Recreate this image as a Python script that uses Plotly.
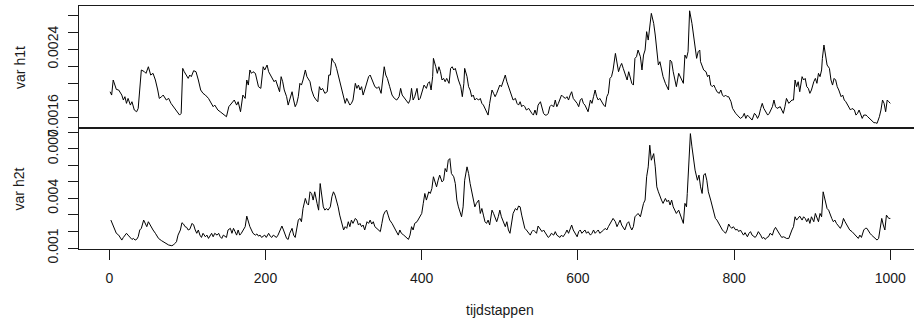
import numpy as np
import plotly.graph_objects as go

# time steps and conditional variance of series 1 (values in units of 1e-4)
steps_h1 = [
    1, 3, 5, 9, 12, 16, 18, 20, 22, 24,
    27, 29, 32, 35, 37, 39, 41, 45, 47, 50,
    53, 56, 59, 62, 64, 67, 69, 73, 76, 79,
    82, 86, 90, 92, 94, 96, 98, 101, 103, 105,
    108, 111, 114, 117, 120, 123, 127, 130, 133, 135,
    139, 142, 145, 150, 153, 157, 160, 163, 165, 168,
    169, 171, 174, 176, 178, 180, 182, 184, 187, 189,
    191, 194, 196, 197, 199, 202, 204, 207, 209, 211,
    213, 216, 218, 220, 222, 224, 227, 229, 231, 234,
    236, 238, 240, 242, 244, 246, 248, 251, 253, 255,
    257, 259, 262, 265, 267, 269, 271, 273, 276, 279,
    281, 283, 285, 287, 289, 291, 293, 295, 298, 300,
    302, 304, 306, 308, 310, 312, 315, 317, 319, 321,
    323, 325, 327, 330, 332, 334, 336, 338, 340, 343,
    345, 348, 350, 352, 354, 356, 359, 362, 365, 368,
    371, 373, 375, 378, 381, 383, 385, 387, 389, 391,
    394, 396, 398, 400, 403, 406, 408, 410, 412, 414,
    415, 418, 420, 422, 424, 426, 428, 430, 432, 435,
    437, 439, 441, 443, 445, 447, 450, 452, 454, 455,
    458, 460, 462, 464, 466, 468, 470, 473, 475, 477,
    479, 481, 483, 485, 487, 490, 492, 494, 496, 498,
    500, 502, 505, 507, 509, 511, 513, 515, 517, 520,
    522, 524, 526, 528, 530, 532, 534, 537, 539, 541,
    543, 545, 547, 549, 552, 554, 556, 558, 560, 562,
    564, 566, 569, 571, 573, 575, 577, 579, 581, 584,
    586, 588, 590, 592, 594, 596, 599, 601, 603, 605,
    607, 609, 611, 613, 616, 618, 620, 622, 624, 626,
    628, 631, 633, 635, 637, 639, 641, 643, 645, 648,
    650, 652, 654, 656, 658, 660, 663, 665, 667, 669,
    671, 673, 675, 677, 680, 682, 684, 686, 688, 690,
    694, 697, 699, 701, 703, 705, 707, 709, 712, 714,
    716, 718, 720, 722, 724, 726, 729, 731, 733, 735,
    737, 739, 741, 743, 746, 748, 750, 752, 754, 756,
    757, 759, 761, 764, 766, 768, 770, 772, 774, 776,
    778, 781, 783, 785, 787, 789, 791, 793, 796, 798,
    800, 802, 804, 806, 808, 811, 813, 815, 817, 819,
    821, 823, 826, 828, 830, 832, 834, 836, 838, 840,
    843, 845, 847, 849, 851, 853, 855, 859, 861, 863,
    865, 867, 870, 872, 874, 876, 878, 880, 882, 884,
    887, 889, 891, 893, 895, 897, 899, 902, 904, 906,
    908, 910, 912, 913, 915, 917, 919, 922, 924, 926,
    928, 930, 932, 934, 937, 939, 941, 943, 945, 947,
    949, 951, 954, 956, 958, 960, 962, 964, 966, 969,
    971, 973, 975, 977, 979, 981, 983, 986, 988, 990,
    992, 994, 996, 998, 1000,
]
h1_e4 = [
    19.04, 18.65, 20.41, 19.31, 19.24, 18.65, 18.07, 18.46, 17.68, 18.26,
    17.48, 17.87, 16.90, 16.70, 17.09, 19.24, 21.58, 21.38, 21.19, 21.96,
    20.99, 21.19, 20.41, 19.24, 18.26, 18.46, 18.65, 18.07, 18.26, 17.68,
    17.29, 16.70, 16.31, 16.51, 21.77, 21.38, 20.99, 20.60, 20.99, 20.80,
    21.50, 21.38, 20.41, 19.24, 18.85, 18.65, 18.26, 17.68, 17.29, 17.48,
    16.90, 16.70, 16.51, 16.12, 17.29, 17.68, 18.07, 17.48, 17.87, 16.70,
    17.29, 18.65, 18.26, 20.41, 19.82, 21.58, 21.19, 21.38, 21.19, 20.21,
    19.63, 19.43, 20.99, 21.96, 21.58, 22.16, 21.38, 20.80, 20.60, 20.21,
    20.41, 19.63, 19.04, 20.80, 20.21, 19.24, 18.46, 17.48, 18.07, 19.04,
    18.07, 17.29, 17.68, 18.46, 20.02, 19.82, 20.41, 21.58, 20.80, 20.41,
    20.21, 19.24, 18.46, 18.07, 17.87, 19.63, 19.24, 19.43, 18.85, 19.04,
    20.99, 20.99, 22.94, 22.55, 22.35, 21.77, 20.99, 20.02, 19.24, 18.46,
    17.68, 18.26, 17.87, 17.48, 17.68, 18.07, 20.02, 19.43, 19.82, 19.24,
    19.63, 18.65, 19.24, 20.21, 20.80, 20.99, 20.60, 20.02, 19.63, 19.43,
    19.63, 18.85, 20.60, 21.96, 20.99, 20.60, 19.63, 18.65, 18.26, 18.07,
    18.46, 19.43, 18.65, 18.26, 17.87, 17.68, 18.07, 19.43, 18.07, 18.46,
    19.43, 18.07, 18.26, 19.04, 19.82, 19.43, 20.02, 20.21, 19.24, 20.80,
    22.94, 21.96, 21.19, 21.96, 21.38, 20.41, 20.60, 20.21, 20.60, 20.02,
    21.77, 21.96, 21.58, 21.77, 20.99, 20.41, 19.63, 18.46, 20.02, 21.77,
    20.80, 19.63, 19.24, 18.46, 18.65, 18.07, 18.26, 18.07, 18.26, 17.68,
    17.48, 17.09, 16.51, 16.31, 17.68, 19.24, 18.85, 18.46, 18.85, 19.43,
    19.82, 19.63, 20.60, 20.99, 20.21, 19.63, 19.24, 18.65, 18.07, 18.26,
    17.68, 17.48, 17.87, 17.29, 17.48, 17.29, 16.90, 17.09, 16.70, 16.51,
    16.31, 16.90, 16.31, 17.48, 17.87, 17.09, 16.51, 16.31, 16.31, 16.51,
    17.29, 17.48, 17.29, 18.07, 17.29, 17.68, 18.26, 18.65, 18.46, 18.26,
    18.46, 18.07, 18.65, 19.04, 18.26, 18.07, 17.68, 17.29, 18.07, 18.26,
    17.68, 17.48, 17.09, 16.70, 18.07, 17.68, 18.46, 19.24, 18.46, 18.07,
    18.26, 17.68, 17.48, 17.29, 18.46, 18.85, 20.60, 20.80, 21.58, 23.52,
    22.55, 21.38, 21.96, 22.35, 21.77, 21.19, 20.41, 21.38, 20.60, 20.02,
    19.82, 22.94, 23.13, 23.91, 23.13, 21.58, 23.33, 23.91, 26.06, 25.08,
    28.20, 27.03, 25.67, 23.52, 22.16, 22.55, 21.58, 20.80, 20.02, 19.63,
    19.24, 22.74, 22.55, 21.38, 20.60, 19.63, 21.19, 20.80, 20.60, 20.02,
    23.33, 22.94, 23.72, 28.50, 27.03, 25.47, 23.91, 22.94, 23.72, 23.91,
    22.55, 22.16, 21.58, 21.38, 20.80, 20.99, 19.82, 19.63, 19.82, 19.43,
    19.04, 18.85, 19.24, 18.65, 18.46, 18.65, 18.46, 18.46, 17.87, 17.09,
    16.70, 16.51, 16.31, 16.12, 15.92, 16.12, 16.51, 15.92, 16.31, 16.12,
    15.92, 15.73, 16.51, 16.31, 15.92, 16.31, 17.09, 17.68, 17.09, 16.70,
    16.31, 16.51, 16.90, 17.29, 18.07, 17.29, 17.09, 17.29, 16.90, 16.51,
    17.29, 18.26, 17.68, 17.87, 18.07, 18.07, 20.41, 19.63, 20.21, 19.04,
    20.80, 20.41, 20.60, 19.63, 19.43, 18.85, 19.24, 20.21, 20.60, 20.02,
    21.19, 20.80, 21.58, 22.94, 24.50, 23.33, 22.16, 21.77, 20.41, 19.82,
    20.60, 20.41, 19.63, 19.24, 18.46, 18.65, 18.07, 17.87, 17.48, 17.29,
    16.90, 17.09, 16.90, 16.31, 16.51, 16.90, 16.31, 15.92, 16.31, 16.31,
    16.12, 15.92, 15.73, 15.53, 15.42, 15.42, 15.34, 16.12, 16.90, 18.07,
    17.68, 16.70, 18.07, 17.87, 17.68,
]

# time steps and conditional variance of series 2 (values in units of 1e-3)
steps_h2 = [
    2, 5, 7, 9, 12, 14, 16, 18, 20, 22,
    24, 27, 29, 31, 33, 35, 37, 39, 41, 44,
    46, 48, 50, 52, 54, 56, 59, 61, 63, 67,
    71, 76, 80, 82, 84, 86, 88, 91, 93, 95,
    97, 99, 101, 103, 106, 108, 110, 112, 114, 116,
    118, 120, 123, 125, 127, 129, 131, 133, 135, 138,
    140, 142, 144, 146, 150, 152, 155, 157, 159, 161,
    163, 165, 167, 169, 172, 174, 176, 178, 180, 182,
    184, 187, 189, 191, 193, 195, 197, 199, 201, 204,
    206, 208, 210, 212, 214, 216, 219, 221, 223, 225,
    227, 229, 231, 234, 236, 238, 240, 242, 244, 246,
    248, 251, 253, 255, 257, 259, 261, 263, 266, 268,
    270, 272, 274, 276, 278, 280, 283, 285, 287, 289,
    291, 293, 295, 298, 300, 302, 304, 306, 308, 310,
    312, 315, 317, 319, 321, 323, 325, 327, 330, 332,
    334, 336, 338, 340, 342, 345, 347, 349, 351, 353,
    355, 357, 359, 362, 364, 366, 368, 370, 372, 374,
    377, 379, 381, 383, 385, 387, 389, 391, 394, 396,
    398, 400, 402, 404, 406, 409, 411, 413, 415, 417,
    419, 421, 423, 426, 428, 430, 432, 434, 436, 438,
    441, 443, 445, 447, 449, 451, 453, 455, 458, 460,
    462, 464, 466, 468, 470, 473, 475, 477, 479, 481,
    483, 485, 487, 490, 492, 494, 496, 498, 500, 502,
    505, 507, 509, 511, 513, 515, 517, 520, 522, 524,
    526, 528, 530, 532, 534, 537, 539, 541, 543, 545,
    547, 549, 552, 554, 556, 558, 560, 562, 564, 566,
    569, 571, 573, 575, 577, 579, 581, 584, 586, 588,
    590, 592, 594, 596, 599, 601, 603, 605, 607, 609,
    611, 613, 616, 618, 620, 622, 624, 626, 628, 631,
    633, 635, 637, 639, 641, 643, 645, 648, 650, 652,
    654, 656, 658, 660, 663, 665, 667, 669, 671, 673,
    675, 677, 680, 682, 684, 686, 688, 690, 692, 694,
    697, 699, 701, 703, 705, 707, 709, 712, 714, 716,
    718, 720, 722, 724, 726, 729, 731, 733, 735, 737,
    739, 740, 742, 744, 746, 748, 750, 753, 755, 757,
    759, 761, 763, 765, 767, 770, 772, 774, 776, 778,
    780, 782, 785, 787, 789, 791, 793, 795, 797, 799,
    802, 804, 806, 808, 810, 812, 814, 817, 819, 821,
    823, 825, 827, 829, 831, 834, 836, 838, 840, 842,
    844, 846, 849, 851, 853, 855, 857, 859, 861, 863,
    865, 867, 870, 872, 874, 876, 878, 880, 882, 884,
    887, 889, 891, 893, 895, 897, 899, 902, 904, 906,
    908, 910, 912, 914, 916, 919, 921, 923, 925, 927,
    929, 931, 934, 936, 938, 940, 942, 944, 946, 948,
    951, 953, 955, 957, 959, 961, 963, 966, 968, 970,
    972, 974, 976, 978, 980, 983, 985, 987, 989, 991,
    993, 995, 998, 1000,
]
h2_e3 = [
    2.69, 2.39, 2.09, 1.89, 1.78, 1.58, 1.48, 1.64, 1.78, 1.89,
    1.78, 1.64, 1.52, 1.58, 1.48, 1.52, 1.68, 2.09, 2.19, 2.69,
    2.49, 2.29, 2.59, 2.39, 2.29, 2.09, 1.89, 1.68, 1.58, 1.44,
    1.32, 1.18, 1.14, 1.18, 1.28, 1.38, 1.78, 2.09, 2.53, 2.45,
    2.29, 2.25, 2.09, 2.13, 2.49, 2.39, 2.09, 1.89, 2.09, 1.78,
    1.64, 1.89, 1.68, 1.78, 1.58, 1.78, 1.89, 1.68, 1.89, 1.78,
    1.89, 1.68, 1.58, 1.78, 1.64, 2.09, 2.19, 1.89, 2.19, 1.99,
    1.78, 2.09, 1.78, 1.89, 2.09, 2.29, 2.93, 2.59, 2.29, 2.09,
    1.89, 1.78, 1.85, 1.72, 1.78, 1.64, 1.72, 1.78, 1.64, 1.89,
    1.72, 1.64, 1.78, 1.68, 1.64, 1.78, 2.09, 2.33, 2.09, 1.85,
    1.58, 1.52, 1.89, 2.19, 1.78, 1.64, 2.09, 2.69, 2.79, 2.59,
    3.39, 4.00, 3.70, 3.60, 4.40, 4.30, 3.90, 4.40, 3.70, 3.29,
    4.90, 4.10, 3.49, 3.29, 3.39, 3.29, 3.49, 4.10, 4.40, 4.20,
    3.90, 3.49, 2.99, 2.49, 2.09, 2.29, 2.19, 2.59, 2.29, 2.69,
    2.49, 2.79, 2.69, 2.39, 2.49, 2.29, 2.39, 2.09, 2.59, 2.49,
    2.69, 2.45, 2.59, 2.29, 2.19, 2.09, 1.99, 2.49, 2.99, 3.19,
    3.29, 2.99, 2.69, 2.49, 2.29, 2.09, 1.99, 1.78, 2.09, 1.89,
    1.78, 1.68, 1.64, 1.52, 1.78, 2.29, 2.09, 2.49, 2.59, 2.79,
    2.89, 3.09, 3.70, 4.30, 3.90, 4.40, 4.30, 4.60, 5.31, 5.00,
    4.70, 5.10, 5.41, 5.00, 5.10, 5.81, 5.61, 6.31, 6.41, 5.51,
    5.31, 4.90, 3.90, 3.49, 3.19, 2.89, 3.49, 5.10, 5.91, 5.51,
    4.90, 4.40, 3.90, 3.49, 3.70, 3.90, 3.09, 3.39, 2.99, 2.59,
    2.49, 2.69, 2.39, 3.29, 3.09, 2.79, 2.59, 2.89, 3.29, 2.89,
    2.49, 2.29, 2.59, 2.09, 1.89, 2.59, 3.09, 3.39, 3.29, 3.54,
    3.49, 2.99, 2.49, 2.19, 2.09, 1.89, 1.78, 1.99, 2.09, 1.99,
    1.89, 2.33, 2.13, 1.99, 2.09, 1.93, 1.72, 1.64, 1.72, 1.89,
    1.78, 1.99, 1.78, 1.68, 1.64, 1.78, 1.68, 1.89, 2.09, 1.89,
    2.13, 2.39, 2.09, 1.89, 1.68, 1.99, 2.09, 1.89, 1.99, 2.09,
    1.89, 1.99, 1.78, 1.89, 2.09, 1.89, 1.99, 2.09, 1.89, 1.99,
    2.09, 2.19, 2.09, 2.29, 2.49, 2.59, 2.79, 2.59, 2.29, 2.49,
    2.69, 2.39, 2.19, 2.09, 2.49, 2.59, 2.29, 2.09, 2.29, 2.89,
    2.99, 3.09, 2.89, 3.29, 3.70, 3.90, 5.31, 5.91, 7.22, 6.31,
    6.71, 5.91, 4.70, 4.40, 4.10, 3.90, 3.70, 4.00, 3.80, 3.90,
    3.60, 3.90, 3.49, 3.29, 3.09, 3.29, 2.99, 2.69, 2.49, 3.70,
    3.49, 4.30, 6.31, 7.92, 7.12, 6.31, 5.71, 5.10, 5.41, 4.70,
    4.30, 5.41, 5.51, 5.10, 4.40, 3.90, 3.49, 3.09, 2.79, 2.69,
    2.49, 2.39, 2.09, 1.99, 1.89, 2.09, 2.45, 2.29, 2.19, 2.29,
    2.09, 2.13, 1.99, 2.09, 1.89, 1.78, 1.93, 1.68, 1.89, 1.99,
    1.78, 1.68, 1.64, 1.78, 1.99, 1.78, 1.58, 1.64, 1.52, 1.64,
    1.68, 1.89, 1.78, 2.09, 2.25, 2.09, 1.89, 1.78, 1.64, 1.68,
    1.64, 1.58, 1.58, 1.89, 2.09, 2.29, 2.89, 2.69, 2.79, 2.93,
    2.69, 2.89, 2.79, 2.59, 2.79, 2.49, 2.89, 2.59, 3.09, 2.89,
    2.59, 3.09, 2.89, 4.40, 3.90, 3.39, 3.29, 2.99, 2.79, 2.59,
    2.69, 2.49, 2.29, 2.19, 2.39, 2.79, 2.59, 2.39, 2.29, 2.09,
    1.99, 1.89, 1.78, 1.68, 1.58, 1.78, 1.64, 2.09, 2.19, 2.19,
    1.99, 1.89, 1.78, 1.68, 1.58, 1.48, 1.58, 2.09, 2.79, 2.39,
    2.09, 2.99, 2.79, 2.79,
]

assert len(steps_h1) == len(h1_e4)
assert len(steps_h2) == len(h2_e3)

var_h1t = np.array(h1_e4) * 1e-4
var_h2t = np.array(h2_e3) * 1e-3

x_ticks = [0, 200, 400, 600, 800, 1000]
h1_ticks = [0.0016, 0.0018, 0.0020, 0.0022, 0.0024, 0.0026, 0.0028]
h1_labels = ["0.0016", "", "", "", "0.0024", "", ""]
h2_ticks = [0.001, 0.002, 0.003, 0.004, 0.005, 0.006, 0.007, 0.008]
h2_labels = ["0.001", "", "", "0.004", "", "", "0.007", ""]

FONT = "Liberation Sans, Arial, Helvetica, sans-serif"
INK = "#1a1a1a"
X_RANGE = [-38.8, 1030.3]

fig = go.Figure()
fig.add_trace(go.Scatter(x=steps_h1, y=var_h1t, mode="lines",
                         line=dict(color="black", width=1),
                         xaxis="x2", yaxis="y", showlegend=False))
fig.add_trace(go.Scatter(x=steps_h2, y=var_h2t, mode="lines",
                         line=dict(color="black", width=1),
                         xaxis="x", yaxis="y2", showlegend=False))

split = 121 / 243
axis_common = dict(showgrid=False, zeroline=False, showline=True,
                   linecolor=INK, linewidth=1, tickcolor=INK,
                   tickfont=dict(family=FONT, size=14, color=INK))

fig.update_layout(
    width=914, height=324,
    margin=dict(l=79, r=0, t=6, b=75),
    paper_bgcolor="white", plot_bgcolor="white",
    font=dict(family=FONT, size=14, color=INK),
    xaxis=dict(domain=[0, 1], anchor="y2", range=X_RANGE,
               tickvals=x_ticks, ticktext=[str(v) for v in x_ticks],
               ticks="outside", ticklen=10, mirror=True,
               ticklabelstandoff=6, **axis_common),
    xaxis2=dict(domain=[0, 1], anchor="y", matches="x", range=X_RANGE,
                showticklabels=False, ticks="", mirror=True,
                **axis_common),
    yaxis=dict(domain=[split, 1], anchor="x2", range=[0.00148, 0.002906],
               tickvals=h1_ticks, ticktext=h1_labels, ticks="outside",
               ticklen=10, tickangle=-90, ticklabelstandoff=4,
               **axis_common),
    yaxis2=dict(domain=[0, split], anchor="x", range=[0.00094, 0.00826],
                tickvals=h2_ticks, ticktext=h2_labels, ticks="outside",
                ticklen=10, tickangle=-90, ticklabelstandoff=4,
                **axis_common),
    annotations=[
        dict(text="var h1t", xref="paper", yref="paper",
             x=-0.0707, y=0.749, textangle=-90, showarrow=False,
             xanchor="center", yanchor="middle",
             font=dict(family=FONT, size=14, color=INK)),
        dict(text="var h2t", xref="paper", yref="paper",
             x=-0.0707, y=0.249, textangle=-90, showarrow=False,
             xanchor="center", yanchor="middle",
             font=dict(family=FONT, size=14, color=INK)),
        dict(text="tijdstappen", xref="paper", yref="paper",
             x=0.504, y=-0.251, showarrow=False,
             xanchor="center", yanchor="middle",
             font=dict(family=FONT, size=14, color=INK)),
    ],
)

fig.write_html("out.html")
